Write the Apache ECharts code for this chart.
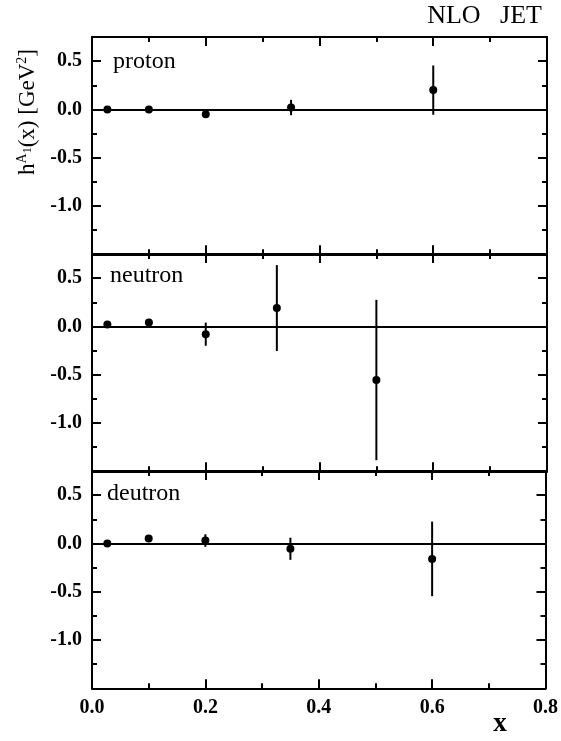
<!DOCTYPE html>
<html>
<head>
<meta charset="utf-8">
<script src="https://cdn.jsdelivr.net/npm/echarts@6/dist/echarts.min.js"></script>
<style>
	html, body { margin: 0; padding: 0; background: #fff; }
	#main { width: 561px; height: 741px; }
</style>
</head>
<body>
<div id="main"></div>
<script>
// panel names
var panelNames = ['proton', 'neutron', 'deutron'];

// proton
var xProton = [0.027, 0.1, 0.2, 0.35, 0.6];
var yProton = [0.0, 0.0, -0.05, 0.02, 0.2];
var eProton = [0, 0, 0, 0.08, 0.255];

// neutron
var xNeutron = [0.027, 0.1, 0.2, 0.325, 0.5];
var yNeutron = [0.02, 0.04, -0.08, 0.19, -0.555];
var eNeutron = [0, 0, 0.12, 0.445, 0.83];

// deutron
var xDeutron = [0.027, 0.1, 0.2, 0.35, 0.6];
var yDeutron = [0.0, 0.05, 0.03, -0.055, -0.16];
var eDeutron = [0, 0, 0.065, 0.115, 0.386];

// ticks
var xMajor = [0, 0.2, 0.4, 0.6, 0.8];
var xMinor = [0.1, 0.3, 0.5, 0.7];
var yMajor = [-1.0, -0.5, 0.0, 0.5];
var yMinor = [-1.25, -0.75, -0.25, 0.25];

var FONT = 'Liberation Serif';
var black = '#000';

var panelTop = [37, 254, 471];
var panelH = 217.3;

var chart = echarts.init(document.getElementById('main'), null, { renderer: 'canvas' });

var grids = [], xAxes = [], yAxes = [], series = [];

var lineStyle = { color: black, width: 2 };

function makeX(gi, pos, ticks, len, withLine, withLabel) {
	return {
		type: 'value',
		gridIndex: gi,
		position: pos,
		min: 0,
		max: 0.8,
		axisLine: { show: withLine, onZero: false, lineStyle: lineStyle },
		axisTick: { show: true, inside: true, length: len, lineStyle: lineStyle, customValues: ticks },
		axisLabel: {
			show: withLabel,
			customValues: xMajor,
			margin: 10,
			color: black,
			fontFamily: FONT,
			fontSize: 20,
			fontWeight: 'bold',
			formatter: function(v) { return v.toFixed(1); }
		},
		splitLine: { show: false }
	};
}

function makeY(gi, pos, ticks, len, withLine, withLabel) {
	return {
		type: 'value',
		gridIndex: gi,
		position: pos,
		min: -1.5,
		max: 0.75,
		axisLine: { show: withLine, onZero: false, lineStyle: lineStyle },
		axisTick: { show: true, inside: true, length: len, lineStyle: lineStyle, customValues: ticks },
		axisLabel: {
			show: withLabel,
			customValues: yMajor,
			margin: 10,
			color: black,
			fontFamily: FONT,
			fontSize: 20,
			fontWeight: 'bold',
			formatter: function(v) { return v.toFixed(1); }
		},
		splitLine: { show: false }
	};
}

// vertical error bar
function renderErr(params, api) {
	var x = api.value(0), y = api.value(1), e = api.value(2);
	if (!e) return null;
	var p1 = api.coord([x, y + e]);
	var p2 = api.coord([x, y - e]);
	return {
		type: 'line',
		shape: { x1: p1[0], y1: p1[1], x2: p2[0], y2: p2[1] },
		style: { stroke: black, lineWidth: 2 }
	};
}

var allX = [xProton, xNeutron, xDeutron];
var allY = [yProton, yNeutron, yDeutron];
var allE = [eProton, eNeutron, eDeutron];

for (var i = 0; i < 3; i++) {
	grids.push({ left: 92, right: 14, top: panelTop[i], height: panelH });

	xAxes.push(makeX(i, 'bottom', xMajor, 9, true, i === 2));
	xAxes.push(makeX(i, 'bottom', xMinor, 5, false, false));
	xAxes.push(makeX(i, 'top', xMajor, 9, true, false));
	xAxes.push(makeX(i, 'top', xMinor, 5, false, false));

	yAxes.push(makeY(i, 'left', yMajor, 9, true, true));
	yAxes.push(makeY(i, 'left', yMinor, 5, false, false));
	yAxes.push(makeY(i, 'right', yMajor, 9, true, false));
	yAxes.push(makeY(i, 'right', yMinor, 5, false, false));

	var data = allX[i].map(function(x, j) {
		return [x, allY[i][j], allE[i][j]];
	});

	series.push({
		type: 'custom',
		xAxisIndex: i * 4,
		yAxisIndex: i * 4,
		renderItem: renderErr,
		data: data,
		z: 3,
		silent: true
	});

	series.push({
		type: 'scatter',
		xAxisIndex: i * 4,
		yAxisIndex: i * 4,
		symbol: 'circle',
		symbolSize: 8,
		itemStyle: { color: black, opacity: 1 },
		data: data.map(function(d) { return [d[0], d[1]]; }),
		z: 4,
		silent: true,
		markLine: {
			silent: true,
			symbol: 'none',
			label: { show: false },
			lineStyle: { color: black, width: 2, type: 'solid', opacity: 1 },
			data: [{ yAxis: 0 }],
			animation: false
		}
	});
}

var labelPos = [[113, 62], [110, 276], [107, 494]];

var graphics = panelNames.map(function(name, i) {
	return {
		type: 'text',
		x: labelPos[i][0],
		y: labelPos[i][1],
		style: {
			text: name,
			fill: black,
			font: '24px "Liberation Serif"',
			verticalAlign: 'middle',
			align: 'left'
		}
	};
});

// header
graphics.push({
	type: 'text',
	x: 542,
	y: 16,
	style: {
		text: 'NLO   JET',
		fill: black,
		font: '26px "Liberation Serif"',
		align: 'right',
		verticalAlign: 'middle'
	}
});

// x axis title
graphics.push({
	type: 'text',
	x: 500,
	y: 724,
	style: {
		text: 'x',
		fill: black,
		font: 'bold 27px "Liberation Serif"',
		align: 'center',
		verticalAlign: 'middle'
	}
});

// y axis title
graphics.push({
	type: 'text',
	x: 28,
	y: 112,
	rotation: Math.PI / 2,
	style: {
		text: '{a|h}{s|A}{m|1}{a|(x) [GeV}{s|2}{a|]}',
		fill: black,
		align: 'center',
		verticalAlign: 'middle',
		rich: {
			a: { fontFamily: FONT, fontSize: 23, lineHeight: 26, fill: black },
			s: { fontFamily: FONT, fontSize: 14, verticalAlign: 'top', fill: black },
			m: { fontFamily: FONT, fontSize: 12, verticalAlign: 'middle', fill: black }
		}
	}
});

var option = {
	backgroundColor: '#fff',
	animation: false,
	grid: grids,
	xAxis: xAxes,
	yAxis: yAxes,
	series: series,
	graphic: graphics
};

chart.setOption(option);
</script>
</body>
</html>
